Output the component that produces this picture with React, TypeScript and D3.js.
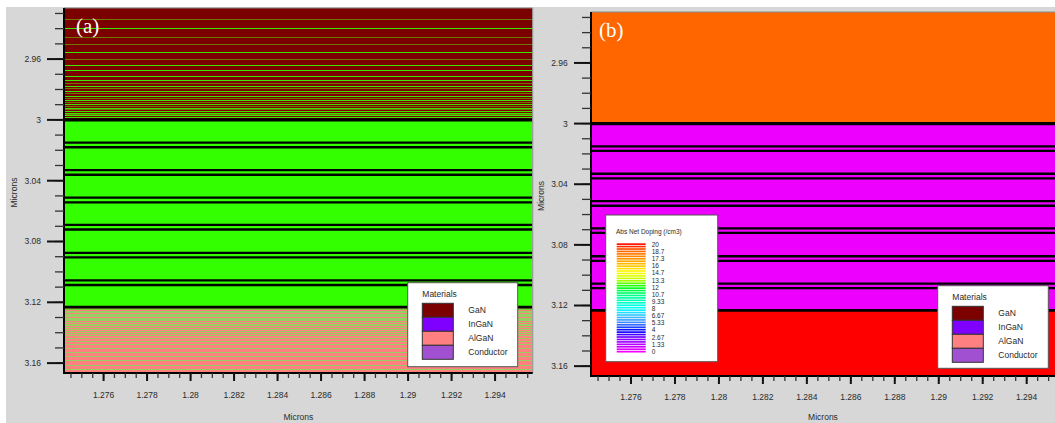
import React from "react";
import * as d3 from "d3";

const W = 1055;
const H = 423;

// ---------- data ----------
const xMajorTicks = [1.276, 1.278, 1.28, 1.282, 1.284, 1.286, 1.288, 1.29, 1.292, 1.294];
const xMajorLabels = ["1.276", "1.278", "1.28", "1.282", "1.284", "1.286", "1.288", "1.29", "1.292", "1.294"];
const yMajorTicks = [2.96, 3.0, 3.04, 3.08, 3.12, 3.16];
const yMajorLabels = ["2.96", "3", "3.04", "3.08", "3.12", "3.16"];
const xDomain = [1.27418, 1.29573];
const yDomain = [2.9264, 3.1665];

// layer boundaries (microns)
const capBottom = 3.0;
const mqwBottom = 3.1232;
const wellCenters = [3.0165, 3.0346, 3.0527, 3.0706, 3.089, 3.1071];
const wellHalfWidth = 0.0015;

// thin layers in the GaN cap, panel (a)
const capGreenLines = [2.9396, 2.9554, 2.9638, 2.9671, 2.971, 2.9736, 2.9776, 2.9809, 2.984, 2.9868, 2.9895, 2.9919, 2.9941, 2.9952, 2.9969, 2.9978];
const capOliveLines = [2.9334, 2.9458, 2.9501, 2.9598, 2.9758, 2.9791, 2.9824, 2.9855, 2.9881, 2.9908, 2.993, 2.9961];
// thin layers in the AlGaN region, panel (a)
const alganGreenBand = [3.1241, 3.1249];
const alganLines = [3.1257, 3.1265, 3.1274, 3.1283, 3.1292, 3.13, 3.1309, 3.1318, 3.1329, 3.134, 3.1351, 3.1362, 3.1373, 3.1386, 3.1402, 3.1417, 3.1435, 3.1454, 3.1476, 3.1501, 3.1529, 3.1555, 3.1582, 3.161, 3.1639];

const materials = ["GaN", "InGaN", "AlGaN", "Conductor"];
const materialColors = ["#7b0000", "#8000ff", "#ff8080", "#a050d0"];

const dopingLabels = ["20", "18.7", "17.3", "16", "14.7", "13.3", "12", "10.7", "9.33", "8", "6.67", "5.33", "4", "2.67", "1.33", "0"];
const dopingValues = [20, 18.7, 17.3, 16, 14.7, 13.3, 12, 10.7, 9.33, 8, 6.67, 5.33, 4, 2.67, 1.33, 0];
const dopingColors = ["#ff0000", "#ff6000", "#ff9000", "#ffc000", "#ffff00", "#c0ff00", "#00ff00", "#00ff80", "#00ffc0", "#00ffff", "#40c0ff", "#4080ff", "#0000ff", "#8000ff", "#c000ff", "#ff00ff"];

// ---------- style ----------
const FONT = "'Liberation Sans', Arial, sans-serif";
const GRAY_BG = "#d7d7d7";
const TXT = "#2a2a2a";

type PanelCfg = {
  key: string;
  bgX0: number;
  bgX1: number;
  x0: number;
  x1: number;
  y0: number;
  y1: number;
  tickLabelX: number;
  xLabelBaseline: number;
  yTitleX: number;
  label: string;
  labelX: number;
  labelY: number;
};

const panelA: PanelCfg = {
  key: "a", bgX0: 6, bgX1: 538, x0: 64, x1: 532.7, y0: 8, y1: 373,
  tickLabelX: 41, xLabelBaseline: 398, yTitleX: 14, label: "(a)", labelX: 76, labelY: 33,
};
const panelB: PanelCfg = {
  key: "b", bgX0: 538, bgX1: 1055, x0: 591, x1: 1064.7, y0: 12, y1: 376,
  tickLabelX: 567.7, xLabelBaseline: 400, yTitleX: 541, label: "(b)", labelX: 599, labelY: 37,
};

function minorTicks(start: number, step: number, count: number) {
  return d3.range(count).map((i) => +(start + i * step).toFixed(5));
}

function Axes({ p, xs, ys }: { p: PanelCfg; xs: d3.ScaleLinear<number, number>; ys: d3.ScaleLinear<number, number> }) {
  const yMinor = minorTicks(2.93, 0.01, 24);
  const xMinor = minorTicks(1.2745, 0.0005, 43).filter((v) => xs(v) <= W + 5);
  const visRight = Math.min(p.x1, W);
  return (
    <g>
      {yMinor.map((v, i) => (
        <line key={"ym" + i} x1={p.x0 - 9} x2={p.x0} y1={ys(v)} y2={ys(v)} stroke="#333" strokeWidth={1.3} />
      ))}
      {yMajorTicks.map((v, i) => (
        <g key={"yM" + i}>
          <line x1={p.x0 - 17} x2={p.x0} y1={ys(v)} y2={ys(v)} stroke="#111" strokeWidth={2} />
          <text x={p.tickLabelX} y={ys(v)} dy="0.35em" textAnchor="end" fontSize={8.5} fill={TXT} fontFamily={FONT}>
            {yMajorLabels[i]}
          </text>
        </g>
      ))}
      {xMinor.map((v, i) => (
        <line key={"xm" + i} x1={xs(v)} x2={xs(v)} y1={p.y1} y2={p.y1 + 5} stroke="#333" strokeWidth={1.3} />
      ))}
      {xMajorTicks.map((v, i) => (
        <g key={"xM" + i}>
          <line x1={xs(v)} x2={xs(v)} y1={p.y1} y2={p.y1 + 8} stroke="#111" strokeWidth={2} />
          <text x={xs(v)} y={p.xLabelBaseline} textAnchor="middle" fontSize={8.5} fill={TXT} fontFamily={FONT}>
            {xMajorLabels[i]}
          </text>
        </g>
      ))}
      <text x={(p.x0 + visRight) / 2} y={420} textAnchor="middle" fontSize={8.5} fill={TXT} fontFamily={FONT}>
        Microns
      </text>
      <text
        transform={`translate(${p.yTitleX},${(p.y0 + p.y1) / 2 + 2}) rotate(-90)`}
        dy="0.35em"
        textAnchor="middle"
        fontSize={8.5}
        fill={TXT}
        fontFamily={FONT}
      >
        Microns
      </text>
    </g>
  );
}

function BlackLines({ p, ys }: { p: PanelCfg; ys: d3.ScaleLinear<number, number> }) {
  const lines: { v: number; w: number }[] = [{ v: capBottom, w: 3.3 }, { v: mqwBottom, w: 2.7 }];
  wellCenters.forEach((c) => {
    lines.push({ v: c - wellHalfWidth, w: 2.3 });
    lines.push({ v: c + wellHalfWidth, w: 2.3 });
  });
  return (
    <g>
      {lines.map((l, i) => (
        <line key={i} x1={p.x0} x2={p.x1} y1={ys(l.v)} y2={ys(l.v)} stroke="#000" strokeWidth={l.w} />
      ))}
    </g>
  );
}

function MaterialsLegend({ x, y, w, h }: { x: number; y: number; w: number; h: number }) {
  const sw = 31;
  const sh = 14;
  const sx = x + 14.6;
  const sy = y + 20.6;
  return (
    <g>
      <rect x={x} y={y} width={w} height={h} fill="#fff" stroke="#555" strokeWidth={1} />
      <text x={sx} y={y + 14} fontSize={8.5} fill={TXT} fontFamily={FONT}>
        Materials
      </text>
      {materials.map((m, i) => (
        <g key={m}>
          <rect x={sx} y={sy + i * sh} width={sw} height={sh} fill={materialColors[i]} stroke="#333" strokeWidth={1} />
          <text x={sx + sw + 15} y={sy + i * sh + sh / 2} dy="0.35em" fontSize={8.5} fill={TXT} fontFamily={FONT}>
            {m}
          </text>
        </g>
      ))}
    </g>
  );
}

function DopingLegend() {
  const bx = 605.7, by = 215, bw = 112, bh = 146.7;
  const barX = 616.7, barW = 29, barTop = 243.3, barBot = 353.3;
  const vScale = d3.scaleLinear().domain([20, 0]).range([244.3, 351.7]);
  const cScale = d3.scaleLinear<string>().domain(dopingValues).range(dopingColors).interpolate(d3.interpolateRgb);
  const nStripes = 45;
  const stripeH = (barBot - barTop) / nStripes;
  return (
    <g>
      <rect x={bx} y={by} width={bw} height={bh} fill="#fff" stroke="#555" strokeWidth={1} />
      <text x={616} y={233.5} fontSize={6.5} fill={TXT} fontFamily={FONT}>
        Abs Net Doping (/cm3)
      </text>
      {d3.range(nStripes).map((i) => {
        const v = 20 - ((i + 0.5) * 20) / nStripes;
        return <rect key={i} x={barX} y={barTop + i * stripeH} width={barW} height={stripeH * 0.68} fill={cScale(v)} />;
      })}
      {dopingLabels.map((l, i) => (
        <text key={l} x={651.7} y={vScale(dopingValues[i])} dy="0.35em" fontSize={6.5} fill={TXT} fontFamily={FONT}>
          {l}
        </text>
      ))}
    </g>
  );
}

function PanelFrame({ p, children, xs, ys }: any) {
  return (
    <g>
      <defs>
        <clipPath id={"clip-" + p.key}>
          <rect x={p.x0} y={p.y0} width={p.x1 - p.x0} height={p.y1 - p.y0} />
        </clipPath>
      </defs>
      <g clipPath={`url(#clip-${p.key})`}>{children}</g>
      <line x1={p.x0} x2={p.x1} y1={p.y0} y2={p.y0} stroke="#8a8a8a" strokeWidth={1.2} />
      <line x1={p.x1} x2={p.x1} y1={p.y0} y2={p.y1} stroke="#9a9a9a" strokeWidth={1.2} />
      <line x1={p.x0} x2={p.x0} y1={p.y0} y2={p.y1 + 1} stroke="#000" strokeWidth={2} />
      <line x1={p.x0 - 1} x2={p.x1} y1={p.y1} y2={p.y1} stroke="#000" strokeWidth={2} />
      <Axes p={p} xs={xs} ys={ys} />
      <text x={p.labelX} y={p.labelY} fontSize={21} fill="#fff" fontFamily="'Liberation Serif', 'Times New Roman', serif">
        {p.label}
      </text>
    </g>
  );
}

export default function App() {
  const xa = d3.scaleLinear().domain(xDomain).range([panelA.x0, panelA.x1]);
  const ya = d3.scaleLinear().domain(yDomain).range([panelA.y0, panelA.y1]);
  const xb = d3.scaleLinear().domain(xDomain).range([panelB.x0, panelB.x1]);
  const yb = d3.scaleLinear().domain(yDomain).range([panelB.y0, panelB.y1]);

  const band = (ys: any, p: PanelCfg, v0: number, v1: number, fill: string, key: string) => (
    <rect key={key} x={p.x0} y={ys(v0)} width={p.x1 - p.x0} height={ys(v1) - ys(v0)} fill={fill} />
  );

  const thin = (ys: any, v: number, color: string, key: string) => (
    <rect key={key} x={panelA.x0} y={Math.round(ys(v))} width={panelA.x1 - panelA.x0} height={1} fill={color} shapeRendering="crispEdges" />
  );

  return (
    <svg width={W} height={H} style={{ position: "absolute", left: 0, top: 0 }} xmlns="http://www.w3.org/2000/svg">
      <rect x={0} y={0} width={W} height={H} fill="#fff" />
      <rect x={panelA.bgX0} y={7} width={panelA.bgX1 - panelA.bgX0} height={H - 7} fill={GRAY_BG} />
      <rect x={panelB.bgX0} y={7} width={panelB.bgX1 - panelB.bgX0} height={H - 7} fill={GRAY_BG} />

      {/* panel (a): materials */}
      <PanelFrame p={panelA} xs={xa} ys={ya}>
        {band(ya, panelA, yDomain[0], capBottom, "#7b0000", "cap")}
        {band(ya, panelA, capBottom, mqwBottom, "#33ff00", "mqw")}
        {band(ya, panelA, mqwBottom, yDomain[1], "#ff8080", "algan")}
        {capOliveLines.map((v, i) => thin(ya, v, "#6e7800", "o" + i))}
        {capGreenLines.map((v, i) => thin(ya, v, "#3fe600", "g" + i))}
        {band(ya, panelA, alganGreenBand[0], alganGreenBand[1], "#40f010", "gb")}
        {alganLines.map((v, i) => thin(ya, v, "#96d060", "p" + i))}
        <BlackLines p={panelA} ys={ya} />
      </PanelFrame>
      <MaterialsLegend x={407.7} y={282.7} w={110} h={84} />

      {/* panel (b): doping */}
      <PanelFrame p={panelB} xs={xb} ys={yb}>
        {band(yb, panelB, yDomain[0], capBottom, "#ff6600", "capb")}
        {band(yb, panelB, capBottom, mqwBottom, "#ee00ff", "mqwb")}
        {band(yb, panelB, mqwBottom, yDomain[1], "#ff0000", "alganb")}
        <BlackLines p={panelB} ys={yb} />
      </PanelFrame>
      <DopingLegend />
      <MaterialsLegend x={937.7} y={285.7} w={110.6} h={82.6} />
    </svg>
  );
}
